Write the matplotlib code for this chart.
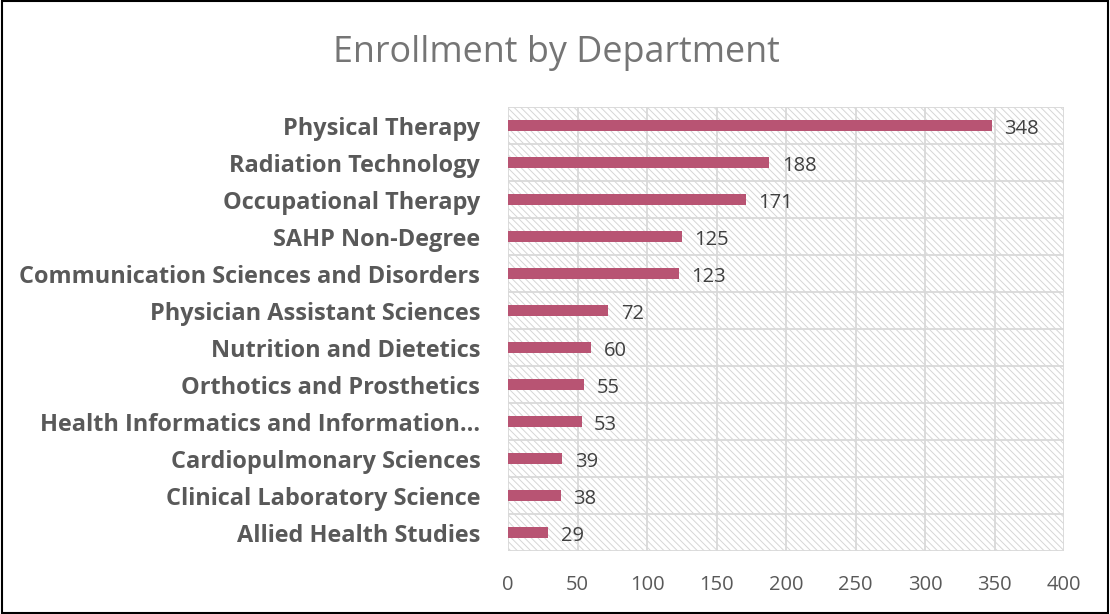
import matplotlib
matplotlib.use("Agg")
import matplotlib.pyplot as plt
from matplotlib.patches import Rectangle

departments = [
    "Physical Therapy",
    "Radiation Technology",
    "Occupational Therapy",
    "SAHP Non-Degree",
    "Communication Sciences and Disorders",
    "Physician Assistant Sciences",
    "Nutrition and Dietetics",
    "Orthotics and Prosthetics",
    "Health Informatics and Information\u2026",
    "Cardiopulmonary Sciences",
    "Clinical Laboratory Science",
    "Allied Health Studies",
]
enrollment = [348, 188, 171, 125, 123, 72, 60, 55, 53, 39, 38, 29]
x_ticks = [0, 50, 100, 150, 200, 250, 300, 350, 400]

plt.rcParams['font.family'] = ['Open Sans', 'DejaVu Sans']
plt.rcParams['hatch.linewidth'] = 0.7
plt.rcParams['hatch.color'] = '#d6d6d6'

fig = plt.figure(figsize=(11.1, 6.14), dpi=100)
ax = fig.add_axes([0.4577, 0.1026, 0.5009, 0.7231])

# hatched plot-area background
ax.add_patch(Rectangle((0, 0), 1, 1, transform=ax.transAxes, facecolor='white',
                       edgecolor='#d6d6d6', hatch='\\' * 5, linewidth=0, zorder=0))

n = len(departments)
ypos = list(range(n))
ax.barh(ypos, enrollment, height=0.3, color='#B85473', zorder=3)
for y, v in zip(ypos, enrollment):
    ax.text(v + 9, y + 0.1, str(v), va='center', ha='left', fontsize=14.5,
            color='#404040', zorder=4)

ax.set_xlim(0, 400)
ax.set_ylim(n - 0.5, -0.5)
ax.set_xticks(x_ticks)
ax.set_yticks(ypos)
ax.set_yticklabels(departments, fontsize=16.9, fontweight='bold', color='#595959')
ax.tick_params(axis='x', labelsize=14.5, labelcolor='#595959', length=0, pad=17)
ax.tick_params(axis='y', length=0, pad=20)

# grid: vertical at ticks, horizontal between categories
for xv in x_ticks:
    ax.axvline(xv, color='#d9d9d9', linewidth=1.3, zorder=1)
for yb in [i - 0.5 for i in range(n + 1)]:
    ax.axhline(yb, color='#d9d9d9', linewidth=1.3, zorder=1)
for s in ax.spines.values():
    s.set_visible(False)

fig.text(0.501, 0.914, "Enrollment by Department", ha='center', va='center',
         fontsize=25.8, color='#757575')

fig.patches.append(Rectangle((0.0015, 0.002), 0.997, 0.996, transform=fig.transFigure,
                             fill=False, edgecolor='black', linewidth=1.5))

fig.savefig("out.png", dpi=100)
